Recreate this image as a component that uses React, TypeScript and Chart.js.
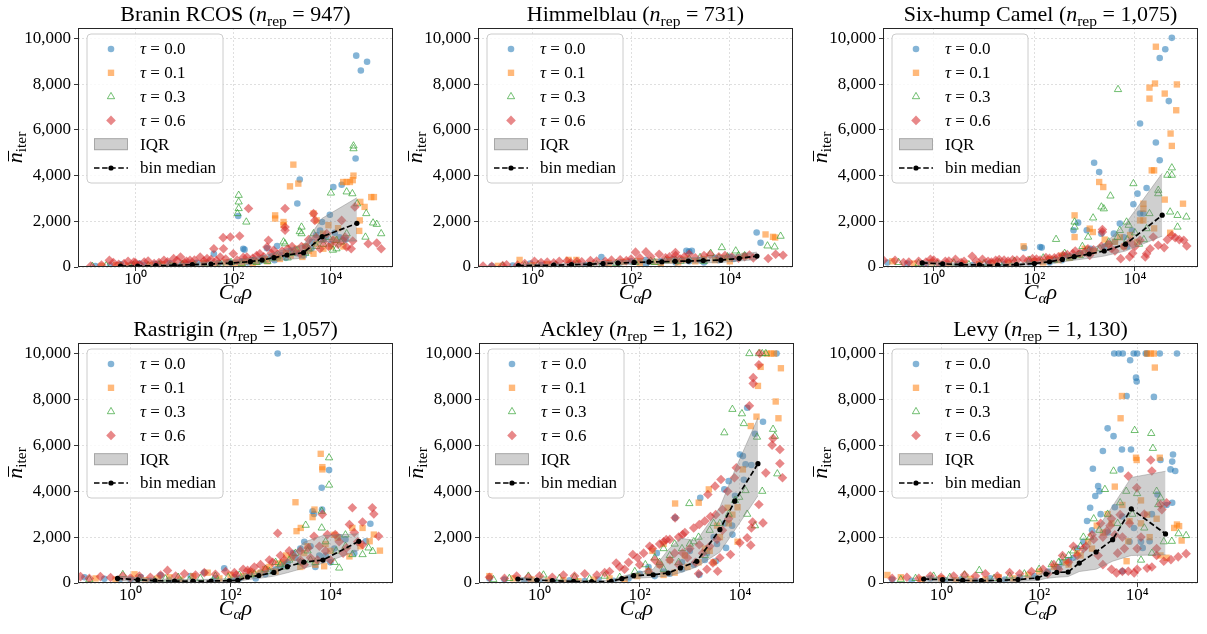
import React, { useEffect, useRef } from 'react';
import { Chart, registerables } from 'chart.js';

Chart.register(...registerables);

type Pt = [number, number];

// ---------------- data (x = C_alpha*rho, y = mean n_iter) ----------------
// Branin RCOS
const braninTau00: Pt[] = [[0.15,40],[0.3,60],[0.5,120],[0.8,90],[1.2,150],[1.5,70],[2.5,130],[3,110],[5,160],[6,80],[9,120],[12,130],[18,180],[25,150],[40,580],[50,170],[80,220],[126,2230],[150,250],[160,800],[170,760],[250,300],[400,380],[490,820],[600,450],[790,920],[1000,520],[1500,700],[2050,2780],[2300,3830],[3000,900],[4100,1100],[5000,1400],[6000,1600],[6600,1970],[8000,1300],[9500,2290],[11200,3500],[12000,1500],[16600,3600],[20000,1200],[32000,4750],[33000,9250],[41000,8600],[55000,8980],[200,200],[350,250],[700,300],[1200,400],[2000,600],[2800,500],[4000,800],[7000,1200],[10000,1000],[15000,1300]];
const braninTau01: Pt[] = [[0.2,50],[0.4,80],[0.7,60],[1,100],[2,90],[3.5,120],[6,70],[10,150],[15,100],[25,170],[45,140],[70,200],[110,180],[180,260],[300,220],[450,330],[720,2260],[720,2120],[800,400],[1070,1970],[1070,1830],[1200,600],[1450,3530],[1700,4480],[2150,3650],[2600,440],[3000,900],[4400,580],[4400,2340],[5100,2040],[6900,1460],[8900,1830],[10000,900],[14000,1700],[17800,3720],[21000,3720],[24500,3720],[28000,3800],[29000,4000],[38000,1580],[39000,2040],[40000,2850],[49000,2630],[67000,3060],[76000,3060],[150,120],[250,150],[500,250],[900,350],[1500,500],[2000,800],[3500,700],[5000,1000],[7000,800],[12000,1200],[18000,900]];
const braninTau03: Pt[] = [[0.13,30],[0.25,60],[0.5,40],[0.9,80],[1.8,60],[3,100],[5,50],[9,110],[16,90],[30,140],[55,120],[90,200],[122,2340],[129,2560],[129,2850],[129,3140],[185,1970],[250,250],[400,300],[650,380],[1070,1100],[1150,1020],[1600,600],[2300,1550],[2500,1750],[2500,1460],[3500,800],[4400,1460],[6000,1200],[10000,3240],[11000,740],[13000,1170],[13000,800],[21000,3290],[21000,1460],[27500,3210],[29000,5300],[29000,5180],[34500,2770],[51000,1310],[53000,2340],[73000,1930],[87000,1870],[107000,1460],[150,150],[300,200],[500,250],[800,450],[1300,400],[2000,700],[3000,600],[5000,900],[7000,1000],[9000,1300],[16000,1100]];
const braninTau06: Pt[] = [[0.12,40],[0.2,90],[0.29,290],[0.45,120],[0.58,146],[0.92,220],[1.2,100],[1.5,220],[2.4,150],[3.8,290],[6,365],[8.3,440],[10,180],[13,290],[21,440],[29,365],[40,800],[54,440],[62,1285],[63,800],[87,1310],[100,580],[135,1360],[190,440],[205,2560],[350,580],[490,875],[525,1170],[670,730],[1150,2560],[1150,1750],[1150,1610],[1600,900],[2300,580],[3200,875],[4400,2340],[4700,2040],[6000,800],[8200,1460],[11000,1170],[16600,2040],[17800,1170],[19500,1310],[21000,875],[26000,800],[28000,1140],[31000,2630],[58000,1020],[87000,1050],[107000,800],[0.35,200],[0.7,250],[1,180],[1.8,260],[3,200],[4.5,230],[7,280],[11,250],[16,300],[25,260],[35,330],[45,280],[70,350],[120,300],[160,420],[250,380],[300,500],[420,450],[600,600],[800,550],[1000,700],[1300,800],[1800,700],[2500,900],[3500,1200],[5000,1300],[7000,1100],[9000,900],[14000,1000]];
const braninBinX = [0.49,1.1,2.6,6.2,14.5,35,89,224,390,680,1260,2750,6600,34000];
const braninMedian = [44,44,58,73,102,131,175,233,306,408,525,627,1327,1910];
const braninQ1 = [20,20,30,40,60,80,100,130,180,250,330,390,1110,1140];
const braninQ3 = [70,80,100,130,180,220,280,380,480,620,800,960,2130,3030];

// Himmelblau
const himmelTau00: Pt[] = [[0.15,40],[0.4,60],[0.9,150],[1.5,90],[3,110],[6,130],[12,90],[25,440],[30,150],[60,200],[100,250],[200,300],[400,250],[700,350],[1320,705],[1500,680],[1700,705],[2500,300],[5000,400],[10000,450],[20000,500],[35000,1510],[42000,1060],[200,120],[400,200],[800,200],[1500,250],[3000,200],[6000,300],[12000,350]];
const himmelTau01: Pt[] = [[0.2,50],[0.55,310],[1,80],[2,120],[5.4,310],[7.8,310],[15,100],[35,180],[70,220],[150,260],[300,230],[600,300],[1200,320],[3000,350],[8000,400],[20000,480],[53000,1425],[75000,1320],[83000,1290],[150,120],[400,150],[900,200],[2000,250],[5000,300],[10000,250]];
const himmelTau03: Pt[] = [[0.25,40],[0.7,60],[1.3,100],[3,80],[8,120],[20,100],[50,160],[120,200],[250,260],[500,280],[1000,250],[2500,420],[4100,600],[6900,850],[9000,450],[13200,705],[20000,500],[58000,925],[81000,880],[107000,1350],[300,200],[800,300],[1500,350],[3000,250],[6000,400],[15000,500]];
const himmelTau06: Pt[] = [[0.1,40],[0.15,30],[0.25,60],[0.5,80],[1.1,250],[2,220],[3.5,250],[6,200],[10,230],[20,260],[40,300],[80,280],[123,650],[150,400],[200,660],[370,560],[600,450],[790,630],[1000,350],[1500,560],[3000,500],[6000,450],[11000,440],[20000,450],[30000,400],[60000,370],[85000,560],[120000,515],[0.3,100],[0.7,150],[1.5,200],[2.7,180],[5,260],[8,240],[15,280],[30,250],[60,320],[100,350],[250,450],[500,400],[800,500],[1200,450],[2000,400],[4000,550],[8000,500],[15000,380],[25000,520]];
const himmelBinX = [0.52,2.7,6.2,14.5,27,54,115,230,420,780,1450,2900,6600,15500,35500];
const himmelMedian = [60,80,100,120,150,170,200,220,230,250,260,280,300,380,480];
const himmelQ1 = [30,40,50,60,80,100,120,140,150,160,170,180,200,260,330];
const himmelQ3 = [100,130,160,190,230,260,300,330,350,380,400,430,480,560,650];

// Six-hump Camel
const camelTau00: Pt[] = [[0.12,200],[0.3,150],[0.7,100],[1.5,80],[3,120],[6,90],[12,150],[25,120],[63,830],[80,200],[130,875],[140,850],[250,300],[400,500],[600,1610],[740,1940],[1100,1610],[1540,4560],[1940,4160],[2150,1460],[3800,1460],[5000,1900],[8700,1600],[9300,2745],[11200,3210],[12600,6280],[12600,2340],[14700,2340],[17000,3460],[26000,5450],[31000,9150],[31000,4670],[40000,9530],[47000,7260],[54000,10030],[200,200],[350,300],[500,450],[800,600],[1300,800],[2500,900],[4000,1100],[6000,1300],[7000,900]];
const camelTau01: Pt[] = [[0.15,250],[0.4,150],[0.9,200],[2,100],[4,150],[8,120],[15,180],[30,150],[61,905],[100,250],[200,350],[350,500],[630,2260],[630,1310],[1000,800],[1260,1680],[1450,1530],[1940,3720],[2340,3500],[3000,1000],[5000,1300],[12600,2040],[14700,2040],[14700,2770],[14700,2550],[19400,7850],[19400,7370],[21500,4230],[24000,4230],[24000,1690],[25000,8030],[26000,9640],[39000,7590],[39000,2950],[50000,1500],[51000,5840],[54000,5300],[66000,6860],[68000,7990],[90000,2770],[150,200],[300,300],[500,400],[800,550],[1500,700],[2500,1200],[4000,1100],[6000,900],[8000,1400],[11000,1100]];
const camelTau03: Pt[] = [[0.2,200],[0.5,150],[1.2,120],[2.5,180],[5,100],[10,150],[20,200],[40,250],[80,300],[150,400],[270,1210],[400,600],[630,1970],[630,1750],[900,900],[1170,1310],[1470,2150],[2150,2630],[2400,2550],[3250,3110],[4600,7770],[5000,1600],[6800,1970],[7500,1830],[9300,3650],[12000,1000],[17000,1680],[19400,2340],[29000,3360],[29000,3210],[44000,4020],[50000,2410],[54000,4340],[54000,4020],[70000,2260],[70000,1750],[105000,2190],[250,300],[500,400],[800,500],[1200,700],[2000,800],[3000,1100],[4500,1300],[7000,1200],[10000,1500],[15000,1200]];
const camelTau06: Pt[] = [[0.1,300],[0.17,290],[0.25,200],[0.32,220],[0.5,250],[0.86,335],[1.2,200],[1.7,250],[2.7,335],[4,250],[5.8,470],[9.3,335],[12,250],[17,290],[25,300],[37,320],[60,350],[92,365],[130,300],[170,410],[250,400],[370,510],[580,585],[800,600],[1160,800],[1260,510],[2150,905],[2250,1640],[2250,1530],[3400,800],[5200,365],[7800,440],[10000,900],[12600,1170],[16000,440],[17000,585],[23000,1310],[29000,950],[38000,850],[44000,1200],[54000,1390],[63000,1285],[76000,1200],[93000,1170],[107000,920],[0.7,220],[1,300],[2,260],[3.5,200],[7,260],[14,220],[20,330],[30,260],[45,300],[75,280],[110,350],[200,380],[300,450],[450,550],[650,700],[1000,650],[1500,750],[3000,1000],[4000,700],[6000,900],[8000,1100],[9000,600],[20000,800]];
const camelBinX = [0.59,1.5,3.5,8.1,18.6,44,100,200,360,620,1230,2450,6500,34700];
const camelMedian = [180,140,100,90,80,100,150,230,330,450,570,700,1000,2270];
const camelQ1 = [100,80,60,50,40,60,100,150,220,300,380,480,700,1350];
const camelQ3 = [250,200,160,140,120,160,220,320,450,600,800,1000,1900,4100];

// Rastrigin
const rastTau00: Pt[] = [[0.12,250],[0.3,180],[0.6,120],[1,150],[1.6,260],[2.5,100],[4,340],[6,140],[10,120],[16,300],[30,460],[50,200],[75,640],[120,250],[200,300],[320,200],[500,380],[700,500],[880,10000],[1000,700],[1400,900],[2000,1100],[2500,1500],[3000,1800],[4400,3130],[4700,3010],[5000,700],[6700,4150],[6800,3200],[8000,1200],[9400,4920],[12000,1500],[20000,1900],[30000,1300],[51000,1820],[63000,2580],[150,200],[400,450],[800,600],[1200,800],[1800,1300],[2500,900],[4000,1600],[6000,1200],[10000,900],[15000,2000]];
const rastTau01: Pt[] = [[0.2,200],[0.5,150],[1.2,380],[2,120],[3.5,200],[6,250],[10,150],[18,300],[35,450],[60,200],[100,350],[180,300],[250,500],[400,450],[600,700],[900,850],[1300,1200],[2000,3520],[2100,2260],[2550,2400],[3000,1300],[4400,2870],[4800,3200],[6400,5630],[6900,5050],[6900,4950],[7500,730],[10000,1400],[14000,1970],[24000,1160],[27500,2400],[44000,2400],[61000,1820],[74000,2110],[98000,1410],[300,400],[500,600],[800,500],[1100,900],[1700,1100],[2500,700],[3500,1600],[5000,800],[8000,1700],[12000,2100],[40000,1600]];
const rastTau03: Pt[] = [[0.15,150],[0.7,370],[1.5,200],[3,100],[5,180],[9,250],[15,120],[25,200],[50,300],[90,250],[150,350],[300,400],[500,600],[800,900],[1200,700],[2000,1300],[3200,2520],[4000,1000],[6700,3130],[6700,2400],[9400,5460],[9400,4270],[12000,900],[15000,655],[20000,1600],[27500,1240],[44000,1240],[58000,1530],[70000,1380],[250,350],[600,500],[1000,800],[1500,1000],[2500,900],[3500,1400],[5000,900],[8000,1800],[13000,1400],[20000,2100]];
const rastTau06: Pt[] = [[0.1,280],[0.15,200],[0.25,280],[0.4,240],[0.7,300],[1,220],[1.5,300],[2.5,250],[4,350],[5.5,550],[8,300],[12,400],[20,350],[30,450],[50,380],[80,500],[120,450],[180,600],[250,500],[400,800],[600,1000],[880,2170],[1000,1200],[1500,1400],[2500,1000],[3600,1530],[4700,2040],[6000,1600],[6900,2990],[8700,2110],[12500,2110],[18000,1300],[21000,1530],[24000,2550],[27500,3280],[35000,1800],[44000,2660],[44000,1670],[69000,3280],[74000,3010],[92000,2040],[130,350],[220,550],[300,700],[500,600],[700,900],[1200,1000],[1800,1200],[2500,1400],[3000,800],[4000,1100],[5500,1000],[8000,1400],[10000,1000],[15000,1800],[30000,2200]];
const rastBinX = [0.55,1.4,3.1,7.6,17.8,41,95,140,220,370,740,1380,2950,7100,37000];
const rastMedian = [198,142,99,86,86,86,99,116,262,326,460,712,914,1000,1815];
const rastQ1 = [100,70,50,40,40,40,50,60,150,200,300,450,650,860,1430];
const rastQ3 = [300,230,180,160,150,160,190,230,380,450,650,1000,1780,2070,2145];

// Ackley
const ackleyTau00: Pt[] = [[0.1,200],[0.2,150],[0.5,100],[1,80],[2,60],[4,120],[8,80],[15,150],[30,100],[60,200],[100,400],[150,700],[220,1300],[300,500],[510,2840],[700,900],[1000,1400],[1550,365],[1620,3710],[2000,1000],[3000,2000],[3300,950],[4900,4080],[5300,1530],[6000,4440],[7000,2500],[7100,2110],[10000,5600],[11500,5530],[13000,5170],[14000,7640],[17000,5140],[20000,6500],[29000,7030],[54000,10000],[200,300],[400,400],[700,600],[1200,800],[2200,1300],[3500,1700],[5000,2600],[8000,3800],[12000,4500]];
const ackleyTau01: Pt[] = [[0.1,300],[0.3,200],[0.7,150],[1.5,100],[3,120],[6,80],[12,150],[25,200],[50,150],[90,300],[150,500],[250,800],[400,1000],[510,3465],[800,1200],[1510,3500],[2000,1500],[2400,4080],[3000,900],[5700,3280],[7100,2980],[9000,1800],[11500,4950],[16500,6840],[21500,7250],[23000,8590],[26000,9420],[35000,10000],[42000,10000],[48000,10000],[52000,7910],[59000,7180],[66000,9360],[300,350],[500,450],[900,700],[1500,900],[2500,1400],[4000,2000],[6000,2600],[9000,3300],[3500,2500],[180,1400],[300,1700]];
const ackleyTau03: Pt[] = [[0.12,150],[0.25,200],[0.6,300],[1.2,350],[2.5,200],[5,250],[10,180],[20,300],[40,250],[80,500],[130,800],[200,1100],[300,1500],[500,1700],[980,3465],[1200,1800],[2000,1200],[3000,2600],[4900,6550],[7100,7570],[9700,3740],[11000,7380],[12000,6950],[13000,4030],[15500,10000],[22000,6360],[24000,10000],[28000,10000],[28000,4000],[33000,10000],[46000,6700],[50000,6400],[56000,4760],[150,500],[250,900],[400,1200],[700,1500],[1000,1700],[1500,2000],[2500,2300],[4000,2600],[6000,3000],[8000,3600],[14000,3000],[20000,2500],[300,600],[600,900]];
const ackleyTau06: Pt[] = [[0.1,250],[0.2,200],[0.35,300],[0.6,250],[1,300],[1.8,250],[3,350],[5,300],[8,400],[14,350],[20,450],[34,870],[50,600],[73,1240],[100,800],[158,1600],[200,1000],[340,1890],[500,1300],[510,2840],[720,2110],[720,1310],[1000,1500],[1550,2550],[1550,1670],[2300,3860],[2900,870],[3200,4220],[3300,2980],[3600,510],[4200,4510],[4500,3200],[5700,4000],[6500,1240],[7800,4590],[8500,5020],[10000,1750],[14000,1970],[15500,7720],[16500,1650],[17000,2400],[18000,2660],[18500,8950],[18500,8690],[24000,9510],[24000,3420],[25000,10000],[29000,2620],[33000,4800],[44000,6010],[46000,6300],[63000,5820],[63000,5210],[71000,4590],[25,500],[40,700],[60,900],[90,1100],[120,1300],[180,1500],[250,1700],[300,1800],[400,1900],[600,2000],[800,2200],[1200,2400],[2000,2700],[2600,2900],[150,500],[250,800],[400,1000],[600,800],[900,1100],[1300,900],[1800,1300],[2500,1600],[3500,1900],[4500,2300],[6000,2800],[4000,1100],[2200,600],[1500,400]];
const ackleyBinX = [0.37,0.89,1.8,4.8,11,27,44,76,186,370,650,1380,4000,7900,23000];
const ackleyMedian = [175,131,100,70,58,70,190,320,360,435,655,945,2330,3565,5200];
const ackleyQ1 = [80,60,40,30,25,30,100,200,250,300,450,700,1350,2300,3800];
const ackleyQ3 = [250,200,160,120,100,120,280,420,600,1450,1950,1850,3300,4900,7200];

// Levy
const levyTau00: Pt[] = [[0.1,150],[0.25,100],[0.6,200],[1.2,120],[2.5,150],[5,100],[10,200],[20,150],[40,250],[80,300],[150,500],[250,700],[400,1000],[600,1500],[950,2700],[1100,3280],[1250,4980],[1400,3790],[1600,4220],[1700,4000],[2000,5750],[2500,6740],[3300,6400],[3400,10000],[4200,10000],[4600,4950],[4900,5820],[5000,510],[5100,10000],[6100,8150],[7200,9710],[7500,5820],[8500,10000],[8600,2400],[9500,8950],[9800,8780],[10000,10000],[13000,1530],[15000,10000],[16000,10000],[18000,1820],[22000,8110],[26000,3860],[29000,10000],[30000,5360],[48000,4950],[52000,5290],[52000,3500],[54000,5600],[60000,4880],[65000,10000],[300,900],[500,1100],[800,1800],[1200,2300],[1800,3000],[2500,2200],[3500,3300],[5000,2900],[7000,1800],[12000,1800],[20000,3000],[40000,3400]];
const levyTau01: Pt[] = [[0.08,350],[0.15,250],[0.4,150],[1,200],[2,120],[4,180],[8,150],[15,250],[30,200],[60,350],[100,500],[200,700],[350,900],[600,1300],[1000,1800],[1500,2500],[2500,3000],[3500,4200],[4600,7180],[4900,8150],[6600,1820],[6100,950],[9500,5460],[9800,5360],[12000,2600],[16000,2980],[16000,10000],[19000,10000],[22000,10000],[23000,9390],[29000,5460],[40000,1100],[57000,2400],[65000,2550],[72000,2480],[81000,1850],[400,800],[700,1200],[1200,1500],[2000,2200],[3000,2600],[5000,3400],[7000,2700],[12000,3600],[18000,2000],[25000,2800],[30000,1200]];
const levyTau03: Pt[] = [[0.15,150],[0.3,200],[0.7,300],[1.5,250],[3,350],[6,550],[12,200],[25,300],[50,400],[100,600],[180,800],[300,1100],[500,1400],[800,2000],[1300,2800],[2200,4080],[3300,4880],[4500,3500],[8900,6650],[10000,3900],[12000,1000],[19400,6520],[21000,5870],[27000,3420],[30000,3710],[35000,1800],[51000,1820],[70000,2150],[100000,2070],[250,900],[400,1200],[700,1600],[1100,2000],[1700,2300],[2500,3000],[4000,2600],[6000,4000],[8000,3000],[14000,2400],[20000,1300],[25000,4000]];
const levyTau06: Pt[] = [[0.1,200],[0.2,250],[0.35,200],[0.6,300],[1,250],[1.8,300],[3,350],[5,300],[8,400],[14,300],[25,450],[40,400],[70,500],[120,600],[200,800],[300,1200],[500,1600],[800,1500],[1200,2100],[1800,2600],[2400,2260],[3000,2800],[3800,440],[4500,2980],[5500,1500],[6600,4660],[6600,510],[8700,440],[9800,4150],[12000,2000],[16000,650],[19000,5360],[20000,4880],[25000,1500],[30000,3420],[32000,3200],[35000,950],[49000,1020],[69000,1140],[100000,1280],[150,400],[250,600],[400,900],[600,1200],[900,1600],[1300,1900],[1600,1200],[2000,2000],[2800,2500],[3500,2100],[4000,1300],[5000,2000],[7000,2600],[10000,1500],[14000,3000],[2000,800],[3000,600],[5000,500],[10000,600],[20000,700],[25000,1200],[40000,3500]];
const levyBinX = [0.44,1.07,2.75,6.6,15.5,37,93,138,229,390,660,1450,3160,7600,38000];
const levyMedian = [175,145,114,100,114,150,218,393,463,480,870,1350,1890,3230,2140];
const levyQ1 = [80,70,50,40,50,70,110,200,250,280,500,600,950,1200,1230];
const levyQ3 = [280,230,200,180,200,260,330,560,700,800,1200,2300,3350,4600,4870];

const TAU_LABELS = ['0.0', '0.1', '0.3', '0.6'];
const Y_TICKS = [0, 2000, 4000, 6000, 8000, 10000];
const X_TICKS = [1, 100, 10000];
const X_TICK_LABELS = ['10\u2070', '10\u00B2', '10\u2074'];
const Y_MAX = 10460;

const PANELS = [
  { name: 'Branin RCOS', nrep: '947', tau: [braninTau00, braninTau01, braninTau03, braninTau06], binX: braninBinX, median: braninMedian, q1: braninQ1, q3: braninQ3, xMin: 0.066, xMax: 186000 },
  { name: 'Himmelblau', nrep: '731', tau: [himmelTau00, himmelTau01, himmelTau03, himmelTau06], binX: himmelBinX, median: himmelMedian, q1: himmelQ1, q3: himmelQ3, xMin: 0.079, xMax: 190000 },
  { name: 'Six-hump Camel', nrep: '1,075', tau: [camelTau00, camelTau01, camelTau03, camelTau06], binX: camelBinX, median: camelMedian, q1: camelQ1, q3: camelQ3, xMin: 0.098, xMax: 178000 },
  { name: 'Rastrigin', nrep: '1,057', tau: [rastTau00, rastTau01, rastTau03, rastTau06], binX: rastBinX, median: rastMedian, q1: rastQ1, q3: rastQ3, xMin: 0.089, xMax: 178000 },
  { name: 'Ackley', nrep: '1, 162', tau: [ackleyTau00, ackleyTau01, ackleyTau03, ackleyTau06], binX: ackleyBinX, median: ackleyMedian, q1: ackleyQ1, q3: ackleyQ3, xMin: 0.062, xMax: 120000 },
  { name: 'Levy', nrep: '1, 130', tau: [levyTau00, levyTau01, levyTau03, levyTau06], binX: levyBinX, median: levyMedian, q1: levyQ1, q3: levyQ3, xMin: 0.065, xMax: 174000 },
];

// ---------------- layout & style ----------------
const LAYOUT = [
  { left: 78, top: 28, h: 239 },
  { left: 478, top: 28, h: 239 },
  { left: 883, top: 28, h: 239 },
  { left: 78, top: 343, h: 240 },
  { left: 479, top: 343, h: 240 },
  { left: 883, top: 343, h: 240 },
];
const AX_W = 316;
const PAD_L = 78, PAD_T = 28, PAD_B = 46, PAD_R = 4;
const FAM = '"Liberation Serif", "Times New Roman", serif';

const SERIES_STYLE = [
  { pointStyle: 'circle', radius: 3.3, bg: 'rgba(31,119,180,0.55)', border: 'rgba(31,119,180,0)', bw: 0 },
  { pointStyle: 'rect', radius: 4.5, bg: 'rgba(255,127,14,0.55)', border: 'rgba(255,127,14,0)', bw: 0 },
  { pointStyle: 'triangle', radius: 4.2, bg: 'rgba(44,160,44,0)', border: 'rgba(44,160,44,0.75)', bw: 0.9 },
  { pointStyle: 'rectRot', radius: 4.8, bg: 'rgba(214,39,40,0.55)', border: 'rgba(214,39,40,0)', bw: 0 },
];
const BAND_FILL = 'rgba(128,128,128,0.38)';
const BAND_EDGE = 'rgba(128,128,128,0.55)';

function fmtThousands(v: number) {
  return String(v).replace(/\B(?=(\d{3})+(?!\d))/g, ',');
}

type Piece = { text: string; font: string; dy?: number };

function measure(ctx: CanvasRenderingContext2D, pieces: Piece[]) {
  let t = 0;
  for (const p of pieces) { ctx.font = p.font; t += ctx.measureText(p.text).width; }
  return t;
}
function drawPieces(ctx: CanvasRenderingContext2D, pieces: Piece[], x: number, y: number) {
  let cx = x;
  const pos: number[] = [];
  for (const p of pieces) {
    ctx.font = p.font;
    pos.push(cx);
    ctx.fillText(p.text, cx, y + (p.dy || 0));
    cx += ctx.measureText(p.text).width;
  }
  return pos;
}

function drawMarker(ctx: CanvasRenderingContext2D, s: any, x: number, y: number) {
  const r = s.radius;
  ctx.beginPath();
  if (s.pointStyle === 'circle') ctx.arc(x, y, r, 0, Math.PI * 2);
  else if (s.pointStyle === 'rect') { const q = Math.SQRT1_2 * r; ctx.rect(x - q, y - q, 2 * q, 2 * q); }
  else if (s.pointStyle === 'triangle') {
    for (let k = 0; k < 3; k++) {
      const a = (k * 2 * Math.PI) / 3;
      const px = x + Math.sin(a) * r, py = y - Math.cos(a) * r;
      if (k) ctx.lineTo(px, py); else ctx.moveTo(px, py);
    }
    ctx.closePath();
  } else { ctx.moveTo(x - r, y); ctx.lineTo(x, y - r); ctx.lineTo(x + r, y); ctx.lineTo(x, y + r); ctx.closePath(); }
  ctx.fillStyle = s.bg; ctx.fill();
  if (s.bw > 0) { ctx.lineWidth = s.bw; ctx.strokeStyle = s.border; ctx.stroke(); }
}

const decorPlugin = {
  id: 'decor',
  afterDraw(chart: any, _args: any, opts: any) {
    const ctx: CanvasRenderingContext2D = chart.ctx;
    const a = chart.chartArea;
    const R22 = `22px ${FAM}`, I22 = `italic 22px ${FAM}`, R15 = `15.5px ${FAM}`, I15 = `italic 15.5px ${FAM}`;
    const R17 = `17px ${FAM}`, I17 = `italic 17px ${FAM}`;
    ctx.save();
    // frame
    ctx.strokeStyle = '#262626';
    ctx.lineWidth = 1;
    ctx.strokeRect(Math.round(a.left) + 0.5, Math.round(a.top) + 0.5, Math.round(a.right - a.left) - 1, Math.round(a.bottom - a.top) - 1);

    ctx.fillStyle = '#000';
    ctx.textBaseline = 'alphabetic';
    ctx.textAlign = 'left';
    const cxm = (a.left + a.right) / 2;
    // title
    const title: Piece[] = [
      { text: opts.name + ' (', font: R22 },
      { text: 'n', font: I22 },
      { text: 'rep', font: R15, dy: 4.5 },
      { text: ' = ' + opts.nrep + ')', font: R22 },
    ];
    drawPieces(ctx, title, cxm - measure(ctx, title) / 2, 21);
    // x label
    const xl: Piece[] = [
      { text: 'C', font: I22 },
      { text: '\u03B1', font: I15, dy: 4 },
      { text: '\u03C1', font: I22 },
    ];
    drawPieces(ctx, xl, cxm - measure(ctx, xl) / 2, a.bottom + 32);
    // y label (rotated)
    const yl: Piece[] = [
      { text: 'n', font: I22 },
      { text: 'iter', font: R15, dy: 4 },
    ];
    ctx.save();
    ctx.translate(22, (a.top + a.bottom) / 2);
    ctx.rotate(-Math.PI / 2);
    const tw = measure(ctx, yl);
    const pos = drawPieces(ctx, yl, -tw / 2, 0);
    ctx.font = I22;
    const nw = ctx.measureText('n').width;
    ctx.beginPath();
    ctx.lineWidth = 1;
    ctx.strokeStyle = '#000';
    ctx.moveTo(pos[0] + 2, -13.5);
    ctx.lineTo(pos[0] + nw + 1.5, -13.5);
    ctx.stroke();
    ctx.restore();

    // legend
    const bx = a.left + 9, by = a.top + 6, bw = 136, bh = 149, rr = 4;
    ctx.beginPath();
    ctx.moveTo(bx + rr, by);
    ctx.arcTo(bx + bw, by, bx + bw, by + bh, rr);
    ctx.arcTo(bx + bw, by + bh, bx, by + bh, rr);
    ctx.arcTo(bx, by + bh, bx, by, rr);
    ctx.arcTo(bx, by, bx + bw, by, rr);
    ctx.closePath();
    ctx.fillStyle = 'rgba(255,255,255,0.8)';
    ctx.fill();
    ctx.strokeStyle = 'rgba(204,204,204,1)';
    ctx.lineWidth = 1;
    ctx.stroke();
    const rowY = (i: number) => by + 15 + i * 23.8;
    const mx = bx + 24, tx = bx + 53;
    ctx.textBaseline = 'middle';
    for (let k = 0; k < 4; k++) {
      drawMarker(ctx, SERIES_STYLE[k], mx, rowY(k));
      ctx.fillStyle = '#000';
      drawPieces(ctx, [{ text: '\u03C4', font: I17 }, { text: ' = ' + TAU_LABELS[k], font: R17 }], tx, rowY(k) + 1);
    }
    // IQR patch
    ctx.fillStyle = BAND_FILL;
    ctx.fillRect(bx + 7, rowY(4) - 6, 34, 12);
    ctx.strokeStyle = BAND_EDGE;
    ctx.strokeRect(bx + 7.5, rowY(4) - 5.5, 33, 11);
    ctx.fillStyle = '#000';
    drawPieces(ctx, [{ text: 'IQR', font: R17 }], tx, rowY(4) + 1);
    // bin median
    ctx.beginPath();
    ctx.setLineDash([5.5, 2.6]);
    ctx.strokeStyle = '#000';
    ctx.lineWidth = 1.7;
    ctx.moveTo(bx + 7, rowY(5));
    ctx.lineTo(bx + 41, rowY(5));
    ctx.stroke();
    ctx.setLineDash([]);
    ctx.beginPath();
    ctx.arc(mx, rowY(5), 2.6, 0, Math.PI * 2);
    ctx.fillStyle = '#000';
    ctx.fill();
    drawPieces(ctx, [{ text: 'bin median', font: R17 }], tx, rowY(5) + 1);
    ctx.restore();
  },
};

function Panel({ idx }: { idx: number }) {
  const ref = useRef<HTMLCanvasElement>(null);
  const p = PANELS[idx];
  const lay = LAYOUT[idx];
  const W = PAD_L + AX_W + PAD_R;
  const H = PAD_T + lay.h + PAD_B;

  useEffect(() => {
    const canvas = ref.current;
    if (!canvas) return;
    const tickFont = { family: FAM, size: 17, lineHeight: 1 };
    const gridCfg = { color: 'rgba(0,0,0,0.16)', lineWidth: 0.8, tickLength: 4, tickColor: '#222', tickWidth: 0.9 };
    const borderCfg = { display: false, dash: [2, 2] };
    const datasets: any[] = p.tau.map((pts, k) => {
      const s = SERIES_STYLE[k];
      return {
        type: 'scatter',
        label: '\u03C4 = ' + TAU_LABELS[k],
        data: pts.map(([x, y]) => ({ x, y })),
        pointStyle: s.pointStyle,
        pointRadius: s.radius,
        pointHoverRadius: s.radius,
        pointBackgroundColor: s.bg,
        backgroundColor: s.bg,
        pointBorderColor: s.border,
        borderColor: s.border,
        pointBorderWidth: s.bw,
        borderWidth: s.bw,
        order: 10 - k,
      };
    });
    datasets.push({
      type: 'line', label: 'IQR', showLine: true,
      data: p.binX.map((x, i) => ({ x, y: p.q3[i] })),
      borderColor: BAND_EDGE, borderWidth: 0.8, pointRadius: 0, tension: 0,
      fill: '+1', backgroundColor: BAND_FILL, order: 2,
    });
    datasets.push({
      type: 'line', label: 'q1', showLine: true,
      data: p.binX.map((x, i) => ({ x, y: p.q1[i] })),
      borderColor: BAND_EDGE, borderWidth: 0.8, pointRadius: 0, tension: 0,
      fill: false, order: 3,
    });
    datasets.push({
      type: 'line', label: 'bin median', showLine: true,
      data: p.binX.map((x, i) => ({ x, y: p.median[i] })),
      borderColor: '#000', borderWidth: 1.7, borderDash: [5.5, 2.6], tension: 0,
      pointRadius: 2.6, pointBackgroundColor: '#000', pointBorderWidth: 0, pointStyle: 'circle',
      fill: false, order: 1,
    });

    const chart = new Chart(canvas, {
      type: 'scatter',
      data: { datasets },
      plugins: [decorPlugin],
      options: {
        animation: false,
        responsive: false,
        devicePixelRatio: 1,
        events: [],
        layout: { padding: { top: PAD_T, right: PAD_R, left: 0, bottom: 0 } },
        plugins: {
          legend: { display: false },
          tooltip: { enabled: false },
          title: { display: false },
          filler: { drawTime: 'beforeDatasetDraw' },
          decor: { name: p.name, nrep: p.nrep },
        } as any,
        scales: {
          x: {
            type: 'logarithmic',
            min: p.xMin,
            max: p.xMax,
            afterBuildTicks: (s: any) => { s.ticks = X_TICKS.map((v) => ({ value: v })); },
            afterFit: (s: any) => { s.height = PAD_B; },
            ticks: {
              callback: (v: any) => { const i = X_TICKS.indexOf(Number(v)); return i >= 0 ? X_TICK_LABELS[i] : ''; },
              font: tickFont, color: '#000', maxRotation: 0, minRotation: 0, autoSkip: false, padding: 0,
            },
            grid: gridCfg,
            border: borderCfg,
          },
          y: {
            type: 'linear',
            min: 0,
            max: Y_MAX,
            afterBuildTicks: (s: any) => { s.ticks = Y_TICKS.map((v) => ({ value: v })); },
            afterFit: (s: any) => { s.width = PAD_L; },
            ticks: {
              callback: (v: any) => fmtThousands(Number(v)),
              font: tickFont, color: '#000', padding: 3, autoSkip: false,
            },
            grid: gridCfg,
            border: borderCfg,
          },
        } as any,
      } as any,
    } as any);
    return () => chart.destroy();
  }, [idx]);

  return (
    <canvas
      ref={ref}
      width={W}
      height={H}
      style={{ position: 'absolute', left: lay.left - PAD_L, top: lay.top - PAD_T, width: W, height: H }}
    />
  );
}

export default function App() {
  return (
    <div style={{ position: 'absolute', left: 0, top: 0, width: 1207, height: 634, background: '#fff', overflow: 'hidden' }}>
      {PANELS.map((_, i) => <Panel key={i} idx={i} />)}
    </div>
  );
}
